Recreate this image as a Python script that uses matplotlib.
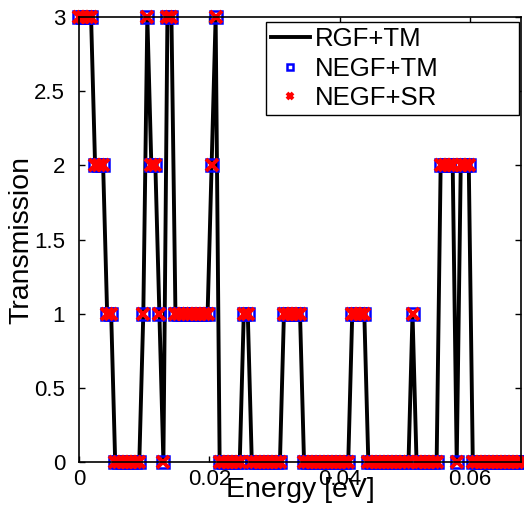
import numpy as np
import matplotlib
matplotlib.use("Agg")
import matplotlib.pyplot as plt

plt.rcParams["font.family"] = ["Liberation Sans", "DejaVu Sans"]

# energy grid end points [eV], points are evenly spaced
e_min = 0.0
e_max = 0.0678

# transmission, one value per energy point
t_rgf_tm = [
    3, 3, 3, 3, 2, 2, 2, 1, 1, 0, 0, 0, 0, 0, 0, 0,
    1, 3, 2, 2, 1, 0, 3, 3,
    1, 1, 1, 1, 1, 1, 1, 1, 1, 2, 3,
    0, 0, 0, 0, 0, 0, 1, 1,
    0, 0, 0, 0, 0, 0, 0, 0, 1, 1, 1, 1, 1,
    0, 0, 0, 0, 0, 0, 0, 0, 0, 0, 0, 0, 1, 1, 1, 1,
    0, 0, 0, 0, 0, 0, 0, 0, 0, 0, 0, 1, 0, 0, 0, 0, 0, 0,
    2, 2, 2, 2, 0, 2, 2, 2,
    0, 0, 0, 0, 0, 0, 0, 0, 0, 0, 0, 0, 0,
]
# the other two methods give the same values
t_negf_tm = list(t_rgf_tm)
t_negf_sr = list(t_rgf_tm)

x_ticks = [0, 0.02, 0.04, 0.06]
x_tick_labels = ["0", "0.02", "0.04", "0.06"]
y_ticks = [0, 0.5, 1, 1.5, 2, 2.5, 3]
y_tick_labels = ["0", "0.5", "1", "1.5", "2", "2.5", "3"]


def main():
    energy = np.linspace(e_min, e_max, len(t_rgf_tm))

    fig = plt.figure(figsize=(5.24, 5.2), dpi=100)
    ax = fig.add_axes([0.1508, 0.1115, 0.8435, 0.8558])

    ax.plot(energy, t_rgf_tm, color="black", lw=2.8, label="RGF+TM", zorder=2)
    ax.plot(energy, t_negf_tm, ls="none", marker="s", ms=8, mfc="none",
            mec="blue", mew=1.8, label="NEGF+TM", clip_on=False, zorder=2.1)
    ax.plot(energy, t_negf_sr, ls="none", marker="x", ms=8, color="red",
            mew=2.8, label="NEGF+SR", clip_on=False, zorder=2.2)

    ax.set_xlim(e_min, e_max)
    ax.set_ylim(0, 3)
    ax.set_xticks(x_ticks)
    ax.set_xticklabels(x_tick_labels)
    ax.set_yticks(y_ticks)
    ax.set_yticklabels(y_tick_labels)
    ax.tick_params(direction="in", length=4, width=1, top=True, right=True,
                   labelsize=16)
    ax.tick_params(axis="x", pad=5)
    ax.tick_params(axis="y", pad=10)
    for sp in ax.spines.values():
        sp.set_linewidth(1.2)
        sp.set_zorder(3)

    ax.set_xlabel("Energy [eV]", fontsize=20.5, labelpad=-9)
    ax.set_ylabel("Transmission", fontsize=20.5, labelpad=0)

    leg = ax.legend(loc="upper left", bbox_to_anchor=(0.423, 0.989, 0.572, 0.0),
                    mode="expand", borderaxespad=0, fontsize=18.5,
                    frameon=True, fancybox=False, framealpha=1,
                    edgecolor="black", handlelength=1.5, handletextpad=0.2,
                    labelspacing=0.22, borderpad=0.2, markerscale=0.6)
    leg.get_frame().set_linewidth(1.0)

    fig.savefig("out.png", dpi=100)
    plt.close(fig)


if __name__ == "__main__":
    main()
